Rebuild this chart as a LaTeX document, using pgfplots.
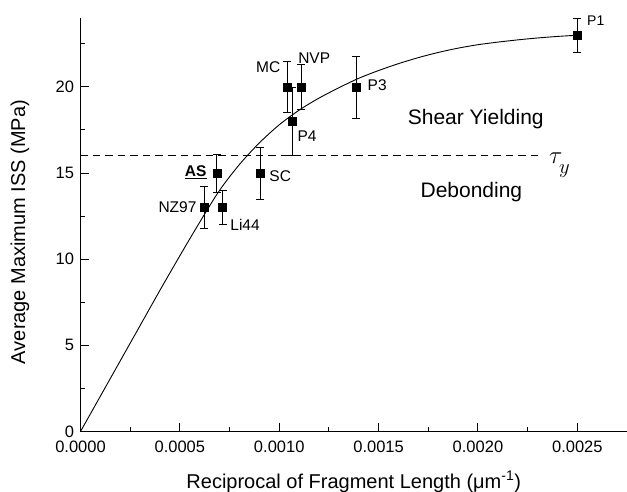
\documentclass[border=0pt]{standalone}
\usepackage{pgfplots}
\pgfplotsset{compat=1.18}
\usepackage{fontspec}
\setmainfont{Liberation Sans}
\newcommand{\tickf}{\fontsize{16.5bp}{20bp}\selectfont}
\newcommand{\labf}{\fontsize{20bp}{24bp}\selectfont}
\newcommand{\ptf}{\fontsize{15.5bp}{18bp}\selectfont}
\newcommand{\regf}{\fontsize{21bp}{25bp}\selectfont}
\begin{document}
\begin{tikzpicture}
\begin{axis}[
  scale only axis,
  width=546.5bp, height=413.5bp,
  xmin=0, xmax=0.00275, ymin=0, ymax=24,
  axis x line=bottom, axis y line=left,
  axis line style={-, line width=1.1bp},
  tick align=inside,
  major tick length=8bp, minor tick length=5bp,
  every tick/.style={black, line width=1bp},
  xtick={0,0.0005,0.001,0.0015,0.002,0.0025},
  xticklabels={0.0000,0.0005,0.0010,0.0015,0.0020,0.0025},
  minor xtick={0.00025,0.00075,0.00125,0.00175,0.00225,0.00275},
  ytick={0,5,10,15,20},
  minor ytick={2.5,7.5,12.5,17.5,22.5},
  scaled x ticks=false,
  /pgf/number format/assume math mode=true,
  tick label style={font=\tickf},
  yticklabel style={xshift=-3bp},
  xticklabel style={yshift=-6bp},
  xlabel={Reciprocal of Fragment Length (μm\textsuperscript{-1})},
  ylabel={Average Maximum ISS (MPa)},
  label style={font=\labf},
  xlabel style={at={(axis description cs:0.5,-0.122)}, anchor=center},
  ylabel style={at={(axis description cs:-0.1107,0.4825)}, anchor=center},
  clip=false,
]
\coordinate (O) at (rel axis cs:0,0);
% fitted curve
\addplot[black, line width=0.9bp, smooth, no marks] coordinates {
(0,0) (0.0001,2.05) (0.0002,4.1) (0.0003,6.15) (0.0004,8.2) (0.0005,10.2)
(0.0006,12.15) (0.0007,14.0) (0.0008,15.5) (0.0009,16.75) (0.0010,17.8)
(0.0011,18.65) (0.0012,19.35) (0.0013,19.95) (0.0014,20.5) (0.0015,20.95)
(0.0016,21.35) (0.0017,21.7) (0.0018,22.0) (0.0019,22.25) (0.0020,22.45)
(0.0021,22.6) (0.0022,22.73) (0.0023,22.84) (0.0024,22.93) (0.0025,23.0)
};
% tau_y line
\addplot[black, line width=0.8bp, dash pattern=on 7.5bp off 5bp, no marks] coordinates {
(0,16) (0.002306,16)
};
% data with error bars
\addplot[only marks, black, mark=square*, mark size=4bp,
  error bars/.cd, y dir=both, y explicit,
  error mark=-,
  error mark options={black, line width=0.8bp, mark size=4bp, rotate=90},
  error bar style={black, line width=0.8bp}]
  table[x=x, y=y, y error=ey] {
x y ey
0.000622 13.0 1.2
0.000715 13.0 1.0
0.000686 15.0 1.1
0.000905 15.0 1.5
0.001039 20.0 1.5
0.00111 20.0 1.3
0.001064 18.0 2.0
0.001387 20.0 1.8
0.0025 23.0 1.0
};
\node[font=\ptf, anchor=base] at (axis cs:0.002593,23.54) {\fontsize{14bp}{16bp}\selectfont P1};
\node[font=\ptf, anchor=base] at (axis cs:0.001493,19.82) {P3};
\node[font=\ptf, anchor=base] at (axis cs:0.00114,16.86) {P4};
\node[font=\ptf, anchor=base] at (axis cs:0.000945,20.85) {MC};
\node[font=\ptf, anchor=base] at (axis cs:0.001176,21.37) {NVP};
\node[font=\ptf, anchor=base] at (axis cs:0.001005,14.50) {SC};
\node[font=\ptf, anchor=base] at (axis cs:0.00058,14.79) {\underline{\textbf{AS}}};
\node[font=\ptf, anchor=base] at (axis cs:0.000488,12.70) {NZ97};
\node[font=\ptf, anchor=base] at (axis cs:0.000828,11.65) {Li44};
\node[font=\regf, anchor=base] at (axis cs:0.001989,17.79) {Shear Yielding};
\node[font=\regf, anchor=base] at (axis cs:0.001967,13.59) {Debonding};
\node[anchor=base west, inner sep=0pt] at (axis cs:0.002357,15.58) {\fontsize{35bp}{37bp}\selectfont$\tau$};
\node[anchor=base west, inner sep=0pt] at (axis cs:0.002408,14.95) {\fontsize{22bp}{24bp}\selectfont$y$};
\end{axis}
\pgfresetboundingbox
\useasboundingbox (O) ++(-80.5bp,-60.5bp) rectangle ++(627bp,492bp);
\end{tikzpicture}
\end{document}
